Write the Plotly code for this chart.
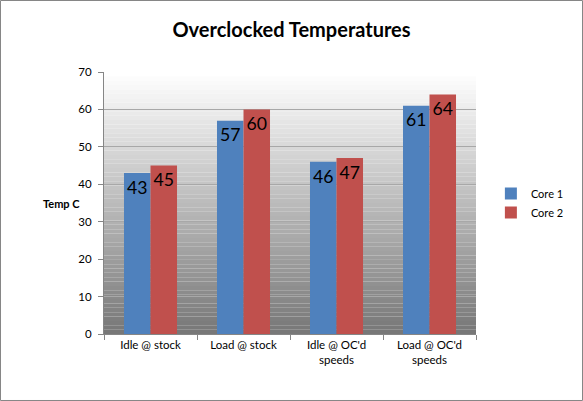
import plotly.graph_objects as go

# chart values
categories = ["Idle @ stock", "Load @ stock", "Idle @ OC'd<br>speeds", "Load @ OC'd<br>speeds"]
core1 = [43, 57, 46, 61]
core2 = [45, 60, 47, 64]
y_ticks = [0, 10, 20, 30, 40, 50, 60, 70]

FONT = "Lato, Calibri, sans-serif"
BLUE = "#4F81BD"
RED = "#C0504D"

fig = go.Figure()
fig.add_trace(go.Bar(name="Core 1", x=categories, y=core1, marker_color=BLUE,
                     marker_line_width=0, text=core1, textposition="inside",
                     insidetextanchor="end", textangle=0,
                     textfont=dict(size=18, color="black", family=FONT)))
fig.add_trace(go.Bar(name="Core 2", x=categories, y=core2, marker_color=RED,
                     marker_line_width=0, text=core2, textposition="inside",
                     insidetextanchor="end", textangle=0,
                     textfont=dict(size=18, color="black", family=FONT)))

# fake the gray gradient of the back wall with thin bands
shapes = []
n = 60
for i in range(n):
    t = i / (n - 1)
    g = int(255 - t * 135)
    shapes.append(dict(type="rect", xref="x domain", yref="y domain",
                       x0=0, x1=1, y0=1 - (i + 1) / n, y1=1 - i / n,
                       fillcolor=f"rgb({g},{g},{g})", line_width=0, layer="below"))
# outer chart border
shapes.append(dict(type="rect", xref="paper", yref="paper", x0=-0.2782, x1=1.2863,
                   y0=-0.2538, y1=1.2729, line=dict(color="#868686", width=1),
                   fillcolor="rgba(0,0,0,0)"))

fig.update_layout(
    width=583, height=401,
    margin=dict(l=104, r=107, t=72, b=67, autoexpand=False),
    paper_bgcolor="white", plot_bgcolor="white",
    title=dict(text="<b>Overclocked Temperatures</b>", x=0.5, xanchor="center",
               y=0.925, yanchor="middle",
               font=dict(size=20, color="black", family=FONT)),
    barmode="group", bargap=0.43, bargroupgap=0,
    font=dict(family=FONT, size=11.5, color="black"),
    legend=dict(x=1.04, y=0.5, xanchor="left", yanchor="middle",
                font=dict(size=11), tracegroupgap=8, bgcolor="rgba(0,0,0,0)"),
    shapes=shapes,
    annotations=[dict(text="<b>Temp C</b>", xref="paper", yref="paper",
                      x=-0.17, y=0.5, xanchor="left", yanchor="middle",
                      showarrow=False, font=dict(size=11, family=FONT))],
)
fig.update_yaxes(range=[0, 70], tickvals=y_ticks, showgrid=True,
                 gridcolor="#a8a8a8", gridwidth=1, zeroline=False,
                 showline=True, linecolor="#868686", ticks="outside",
                 ticklen=5, tickcolor="#868686", tickfont=dict(size=11.5),
                 ticklabelstandoff=4)
fig.update_xaxes(showline=True, linecolor="#868686", ticks="outside",
                 ticklen=5, tickcolor="#868686", tickson="boundaries",
                 tickfont=dict(size=11.5), showgrid=False)

fig.write_html("out.html", config={"displayModeBar": False},
               post_script="document.body.style.margin='0';"
                           "document.body.style.overflow='hidden';")
